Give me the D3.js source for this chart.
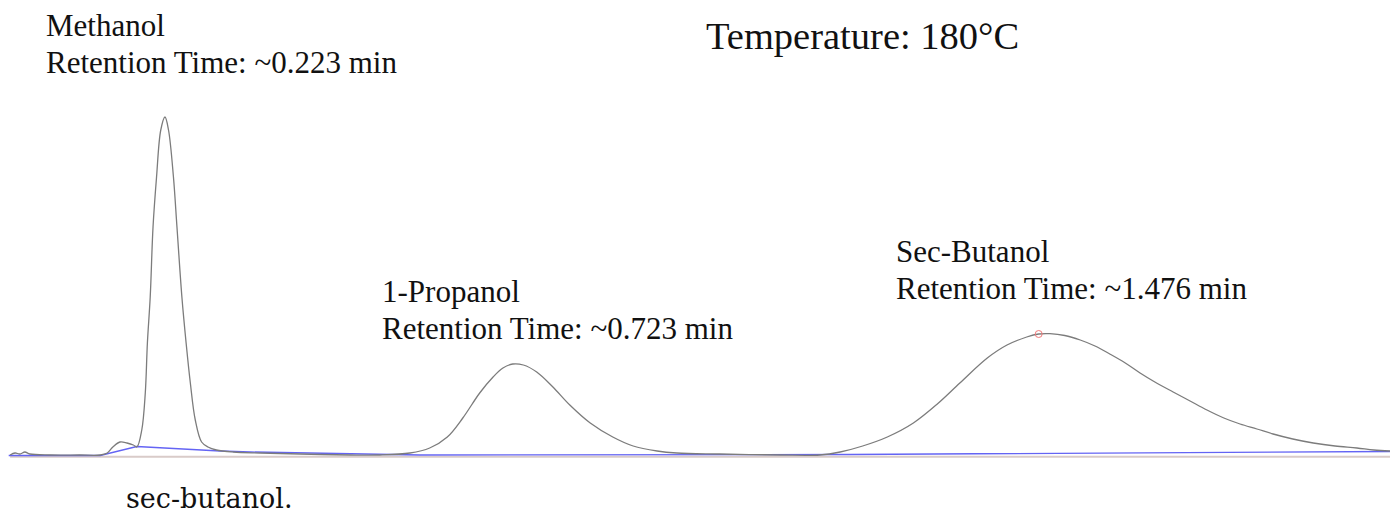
<!DOCTYPE html>
<html>
<head>
<meta charset="utf-8">
<script src="https://cdn.jsdelivr.net/npm/d3@7"></script>
<style>
  body { margin: 0; background: #fff; }
  svg { display: block; }
  .label { font-family: "Liberation Serif", serif; fill: #111; }
</style>
</head>
<body>
<svg id="chroma" width="1391" height="514"></svg>
<script>
"use strict";

// detector trace: time (min) and signal (arbitrary units above baseline)
const traceTime = [0.003, 0.010, 0.017, 0.024, 0.031, 0.060, 0.102, 0.131, 0.141, 0.149,
                   0.159, 0.169, 0.178, 0.183, 0.190, 0.195, 0.198, 0.202, 0.206, 0.211,
                   0.217, 0.223, 0.228, 0.235, 0.240, 0.247, 0.253, 0.259, 0.266, 0.275,
                   0.284, 0.296, 0.320, 0.358, 0.415, 0.486, 0.528, 0.571, 0.599, 0.624,
                   0.646, 0.670, 0.689, 0.703, 0.717, 0.732, 0.751, 0.774, 0.798, 0.827,
                   0.859, 0.888, 0.922, 0.950, 1.011, 1.097, 1.153, 1.182, 1.214, 1.249,
                   1.286, 1.320, 1.352, 1.391, 1.419, 1.447, 1.464, 1.480, 1.501, 1.523,
                   1.544, 1.565, 1.587, 1.608, 1.629, 1.655, 1.679, 1.703, 1.727, 1.750,
                   1.774, 1.797, 1.825, 1.854, 1.885, 1.916, 1.940, 1.963];
const traceSignal = [0, 2, 1, 3, 1, 0, 0, 0, 2, 8,
                     13, 12, 10, 8, 25, 62, 112, 158, 228, 278,
                     325, 338, 325, 278, 228, 158, 112, 72, 35, 13,
                     8, 5, 3, 2, 1, 0, 0, 2, 7, 18,
                     37, 62, 78, 87, 91, 90, 83, 68, 50, 32,
                     18, 9, 4, 2, 1, 0, 0, 3, 9, 18,
                     32, 51, 72, 97, 110, 118, 121, 121.3, 119.5, 115,
                     109, 101, 92, 82, 73, 63, 54, 45, 37, 31,
                     26, 21, 16, 12, 9, 7, 5, 4];

// integration baseline drawn by the software
const baseTime = [0.001, 0.131, 0.183, 0.301, 0.344, 0.585, 1.196, 1.963];
const baseSignal = [-0.5, -0.5, 8.5, 4, 3, 0, 0.5, 3.5];

// peaks
const peakNames = ["Methanol", "1-Propanol", "Sec-Butanol"];
const peakTimes = [0.223, 0.723, 1.476];
const markerTime = 1.464;
const markerSignal = 121;

const title = "Temperature: 180°C";
const caption = "sec-butanol.";

// layout
const labelPos = [[46, 36], [382, 302], [896, 262]];
const lineGap = 37;

window.addEventListener("load", init);

function init() {
    const svg = d3.select("svg#chroma");

    const xScale = d3.scaleLinear()
        .domain([0, 1.963])
        .range([8, 1390]);
    const yScale = d3.scaleLinear()
        .domain([0, 338])
        .range([455, 117]);

    // horizontal axis line under the trace
    const axisY = yScale(0) + 1.8;
    svg.append("line")
        .attr("x1", xScale(0.003))
        .attr("x2", xScale(1.963))
        .attr("y1", axisY)
        .attr("y2", axisY)
        .style("stroke", "#d9cbc9")
        .style("stroke-width", 2);

    // integration baseline
    const baseData = baseTime.map((t, i) => [t, baseSignal[i]]);
    svg.append("path")
        .datum(baseData)
        .attr("d", d3.line()
            .x(d => xScale(d[0]))
            .y(d => yScale(d[1])))
        .style("fill", "none")
        .style("stroke", "#6464f4")
        .style("stroke-width", 1.4);

    // detector trace
    const traceData = traceTime.map((t, i) => [t, traceSignal[i]]);
    svg.append("path")
        .datum(traceData)
        .attr("d", d3.line()
            .curve(d3.curveCatmullRom.alpha(0.5))
            .x(d => xScale(d[0]))
            .y(d => yScale(d[1])))
        .style("fill", "none")
        .style("stroke", "#7c7c7c")
        .style("stroke-width", 1.3);

    // peak marker
    svg.append("circle")
        .attr("cx", xScale(markerTime))
        .attr("cy", yScale(markerSignal))
        .attr("r", 3.5)
        .style("fill", "none")
        .style("stroke", "#f07a7a")
        .style("stroke-width", 1);

    // peak labels
    peakNames.forEach(function(name, i) {
        const g = svg.append("text")
            .attr("class", "label")
            .attr("x", labelPos[i][0])
            .attr("y", labelPos[i][1])
            .style("font-size", "31px");
        g.append("tspan")
            .text(name);
        g.append("tspan")
            .attr("x", labelPos[i][0])
            .attr("dy", lineGap)
            .text("Retention Time: ~" + peakTimes[i].toFixed(3) + " min");
    });

    svg.append("text")
        .attr("class", "label")
        .attr("x", 706)
        .attr("y", 49)
        .style("font-size", "38.5px")
        .text(title);

    svg.append("text")
        .attr("class", "label")
        .attr("x", 126)
        .attr("y", 508)
        .style("font-family", "'DejaVu Serif', serif")
        .style("font-size", "27px")
        .text(caption);
}
</script>
</body>
</html>
